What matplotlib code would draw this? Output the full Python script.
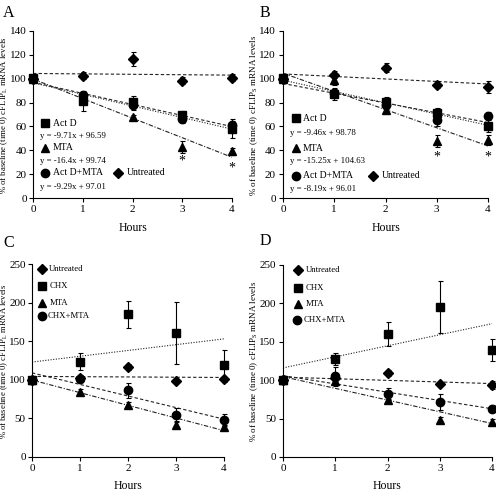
import numpy as np
import matplotlib
matplotlib.use("Agg")
import matplotlib.pyplot as plt

plt.rcParams['font.family'] = ['Liberation Serif', 'DejaVu Serif']
plt.rcParams['mathtext.fontset'] = 'custom'
plt.rcParams['mathtext.rm'] = 'Liberation Serif'
plt.rcParams['mathtext.it'] = 'Liberation Serif:italic'

hours = [0, 1, 2, 3, 4]

# ---- Panel A (cFLIP L, Act D) ----
A_untreated = [100, 102.5, 116.5, 98.5, 100.8]
A_untreated_err = [2, 3, 5.5, 3, 3]
A_actd = [100.7, 81, 80.5, 69.3, 57.5]
A_actd_err = [2, 8, 5, 4, 7]
A_mta = [100, 85.6, 67.5, 42.6, 39]
A_mta_err = [1, 3, 2, 5, 3]
A_actdmta = [100, 86, 78, 66.5, 61.4]
A_actdmta_err = [1, 4, 4, 4, 5]
A_fit_actd = (-9.71, 96.59)
A_fit_mta = (-16.4, 99.74)
A_fit_actdmta = (-9.29, 97.01)
A_fit_untreated = (-0.35, 104.4)
A_stars = [(3, 31), (4, 25.5)]

# ---- Panel B (cFLIP S, Act D) ----
B_untreated = [100, 103.2, 109.3, 94.8, 93.4]
B_untreated_err = [2, 3, 4, 3, 5]
B_actd = [100.4, 87.3, 80.3, 71.1, 60]
B_actd_err = [2, 5, 4, 4, 5]
B_mta = [100, 99, 74, 48, 48.5]
B_mta_err = [1, 4, 2, 5, 4]
B_actdmta = [100, 88, 78, 65.5, 69]
B_actdmta_err = [1, 3, 3, 5, 3]
B_fit_actd = (-9.46, 98.78)
B_fit_mta = (-15.25, 104.63)
B_fit_actdmta = (-8.19, 96.01)
B_fit_untreated = (-2.1, 104.0)
B_stars = [(3, 34), (4, 34)]

# ---- Panel C (cFLIP L, CHX) ----
C_untreated = [100, 102.7, 116.6, 98.4, 100.5]
C_untreated_err = [2, 3, 4, 3, 3]
C_chx = [100, 123.4, 184.7, 161, 119]
C_chx_err = [2, 11, 17, 40, 19]
C_mta = [100, 84.6, 68, 42, 38.9]
C_mta_err = [1, 3, 3, 3, 3]
C_chxmta = [100, 101, 86.3, 55, 48]
C_chxmta_err = [1, 3, 10, 9, 8]
C_fit_chx = (7.5, 123)
C_fit_untreated = (-0.35, 104.4)
C_fit_chxmta = (-15.0, 109)
C_fit_mta = (-16.4, 99.74)

# ---- Panel D (cFLIP S, CHX) ----
D_untreated = [100, 103.2, 109.3, 94.8, 93.4]
D_untreated_err = [2, 3, 4, 3, 5]
D_chx = [100.9, 128, 160, 195, 139]
D_chx_err = [2, 8, 16, 34, 14]
D_mta = [100, 99, 74, 48, 46]
D_mta_err = [1, 4, 2, 4, 3]
D_chxmta = [100, 105, 82, 71.7, 63]
D_chxmta_err = [1, 12, 8, 10, 5]
D_fit_chx = (14.4, 116)
D_fit_untreated = (-2.1, 104.0)
D_fit_chxmta = (-10.8, 106)
D_fit_mta = (-15.25, 104.63)

W, H = 496, 493
fig = plt.figure(figsize=(W / 100, H / 100), dpi=100)

def px_axes(l, r, t, b):
    return fig.add_axes([l / W, 1 - b / H, (r - l) / W, (b - t) / H])

DOT = (0, (1, 1.4))
DASH = (0, (3, 2))
DASHDOT = (0, (4, 1.5, 1, 1.5))
MS = 6

def style(ax, ymax, ystep, pad=2):
    ax.set_xlim(0, 4)
    ax.set_ylim(0, ymax)
    ax.set_xticks(hours)
    ax.set_yticks(np.arange(0, ymax + 1, ystep))
    for s in ['top', 'right']:
        ax.spines[s].set_visible(False)
    for s in ['left', 'bottom']:
        ax.spines[s].set_linewidth(0.8)
    ax.tick_params(direction='out', length=3, width=0.8, labelsize=8, pad=2)
    ax.tick_params(axis='y', pad=pad)
    ax.set_facecolor('none')

def fit_line(ax, fit, ls):
    m, b = fit
    xs = np.array([0, 4])
    ax.plot(xs, m * xs + b, color='#222222', lw=0.8, linestyle=ls, zorder=2)

def series(ax, y, e, marker, ms=MS):
    ax.errorbar(hours, y, yerr=e, fmt=marker, color='black', ms=ms,
                elinewidth=0.8, capsize=1.8, capthick=0.8, clip_on=False, zorder=3)

def leg(ax, x, y, marker, label, tx, ms=MS, fs=7):
    ax.plot([x], [y], marker=marker, color='black', ms=ms, ls='none', clip_on=False)
    ax.text(tx, y, label, fontsize=fs, va='center', ha='left')

def eq(ax, x, y, fit):
    m, b = fit
    ax.text(x, y, f"y = {m}x + {b}", fontsize=6.3, va='center', ha='left')

# Panel A
axA = px_axes(33, 232, 31, 198)
style(axA, 140, 20, pad=1.5)
fit_line(axA, A_fit_untreated, DASH)
fit_line(axA, A_fit_actd, DOT)
fit_line(axA, A_fit_actdmta, DASH)
fit_line(axA, A_fit_mta, DASHDOT)
series(axA, A_untreated, A_untreated_err, 'D', 5.5)
series(axA, A_mta, A_mta_err, '^')
series(axA, A_actdmta, A_actdmta_err, 'o')
series(axA, A_actd, A_actd_err, 's')
for sx, sy in A_stars:
    axA.text(sx, sy, '*', fontsize=10, ha='center', va='center')
leg(axA, 0.24, 62.6, 's', 'Act D', 0.40)
eq(axA, 0.15, 52, A_fit_actd)
leg(axA, 0.24, 42, '^', 'MTA', 0.40)
eq(axA, 0.15, 31, A_fit_mta)
leg(axA, 0.24, 21, 'o', 'Act D+MTA', 0.40)
leg(axA, 1.71, 21, 'D', 'Untreated', 1.88, ms=5.5)
eq(axA, 0.15, 9, A_fit_actdmta)

# Panel B
axB = px_axes(283, 488, 31, 198)
style(axB, 140, 20)
fit_line(axB, B_fit_untreated, DASH)
fit_line(axB, B_fit_actd, DOT)
fit_line(axB, B_fit_actdmta, DASH)
fit_line(axB, B_fit_mta, DASHDOT)
series(axB, B_untreated, B_untreated_err, 'D', 5.5)
series(axB, B_mta, B_mta_err, '^')
series(axB, B_actdmta, B_actdmta_err, 'o')
series(axB, B_actd, B_actd_err, 's')
for sx, sy in B_stars:
    axB.text(sx, sy, '*', fontsize=10, ha='center', va='center')
leg(axB, 0.26, 67, 's', 'Act D', 0.39)
eq(axB, 0.14, 54.4, B_fit_actd)
leg(axB, 0.26, 41.8, '^', 'MTA', 0.39)
eq(axB, 0.14, 30.6, B_fit_mta)
leg(axB, 0.26, 18.7, 'o', 'Act D+MTA', 0.39)
leg(axB, 1.76, 18.7, 'D', 'Untreated', 1.92, ms=5.5)
eq(axB, 0.14, 7.5, B_fit_actdmta)

# Panel C
axC = px_axes(32, 224, 264, 457)
style(axC, 250, 50, pad=1.5)
fit_line(axC, C_fit_chx, DOT)
fit_line(axC, C_fit_untreated, DASH)
fit_line(axC, C_fit_chxmta, DASH)
fit_line(axC, C_fit_mta, DASHDOT)
series(axC, C_untreated, C_untreated_err, 'D', 5.5)
series(axC, C_mta, C_mta_err, '^')
series(axC, C_chxmta, C_chxmta_err, 'o')
series(axC, C_chx, C_chx_err, 's')
leg(axC, 0.21, 244, 'D', 'Untreated', 0.36, ms=5.5, fs=6.3)
leg(axC, 0.21, 221, 's', 'CHX', 0.36, fs=6.3)
leg(axC, 0.21, 200, '^', 'MTA', 0.36, fs=6.3)
leg(axC, 0.21, 182, 'o', 'CHX+MTA', 0.33, fs=6.3)

# Panel D
axD = px_axes(283, 492, 265, 457)
style(axD, 250, 50)
fit_line(axD, D_fit_chx, DOT)
fit_line(axD, D_fit_untreated, DASH)
fit_line(axD, D_fit_chxmta, DASH)
fit_line(axD, D_fit_mta, DASHDOT)
series(axD, D_untreated, D_untreated_err, 'D', 5.5)
series(axD, D_mta, D_mta_err, '^')
series(axD, D_chxmta, D_chxmta_err, 'o')
series(axD, D_chx, D_chx_err, 's')
leg(axD, 0.29, 243, 'D', 'Untreated', 0.44, ms=5.5, fs=6.3)
leg(axD, 0.29, 220, 's', 'CHX', 0.44, fs=6.3)
leg(axD, 0.29, 199, '^', 'MTA', 0.44, fs=6.3)
leg(axD, 0.27, 179, 'o', 'CHX+MTA', 0.40, fs=6.3)

# axis titles
labL = r"% of baseline (time 0) cFLIP$_{\mathrm{L}}$ mRNA levels"
labS = r"% of baseline (time 0) cFLIP$_{\mathrm{S}}$ mRNA levels"
fig.text(4.5 / W, 1 - 115 / H, labL, rotation=90, ha='center', va='center', fontsize=6.3)
fig.text(254 / W, 1 - 115 / H, labS, rotation=90, ha='center', va='center', fontsize=6.5)
fig.text(4.5 / W, 1 - 361 / H, labL, rotation=90, ha='center', va='center', fontsize=6.2)
fig.text(254 / W, 1 - 361 / H, labS, rotation=90, ha='center', va='center', fontsize=6.5)

for x, y in [(133, 228), (386, 228), (128, 486), (387, 486)]:
    fig.text(x / W, 1 - y / H, 'Hours', ha='center', va='center', fontsize=8.5)

for x, y, t in [(9, 13, 'A'), (265, 13, 'B'), (9, 243, 'C'), (265, 241, 'D')]:
    fig.text(x / W, 1 - y / H, t, ha='center', va='center', fontsize=11.5)

fig.savefig('out.png', dpi=100)
